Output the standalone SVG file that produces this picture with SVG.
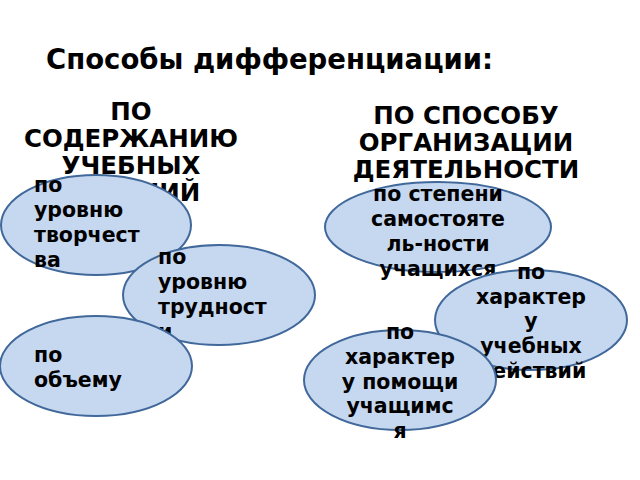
<svg xmlns="http://www.w3.org/2000/svg" width="640" height="480" viewBox="0 0 640 480">
<style>
text{font-family:"DejaVu Sans",Verdana,sans-serif;font-weight:bold;fill:#000}
.h{font-size:24.5px;text-anchor:middle}
.t{font-size:20.5px}
.c{text-anchor:middle}
ellipse{fill:#c6d8f0;stroke:#41689a;stroke-width:2}
</style>
<rect width="640" height="480" fill="#fff"/>
<text x="46" y="69" style="font-size:27.5px">Способы дифференциации:</text>
<text class="h" x="131" y="120">ПО</text>
<text class="h" x="131" y="147">СОДЕРЖАНИЮ</text>
<text class="h" x="131" y="174">УЧЕБНЫХ</text>
<text class="h" x="131" y="201">ЗАДАНИЙ</text>
<text class="h" x="466" y="124">ПО СПОСОБУ</text>
<text class="h" x="466" y="151">ОРГАНИЗАЦИИ</text>
<text class="h" x="466" y="178">ДЕЯТЕЛЬНОСТИ</text>
<g id="connectors"/>
<g id="n1"><ellipse cx="96" cy="225" rx="95" ry="50"/>
<text class="t" x="34" y="192">по</text><text class="t" x="34" y="217">уровню</text><text class="t" x="34" y="242">творчест</text><text class="t" x="34" y="267">ва</text></g>
<g id="n2"><ellipse cx="219" cy="295" rx="96" ry="50"/>
<text class="t" x="158" y="264">по</text><text class="t" x="158" y="289">уровню</text><text class="t" x="158" y="314">трудност</text><text class="t" x="158" y="339">и</text></g>
<g id="n3"><ellipse cx="96" cy="366" rx="96" ry="50"/>
<text class="t" x="34" y="362">по</text><text class="t" x="34" y="387">объему</text></g>
<g id="n4"><ellipse cx="438" cy="227" rx="113" ry="45"/>
<g class="c"><text class="t" x="438" y="201">по степени</text><text class="t" x="438" y="226">самостояте</text><text class="t" x="438" y="251">ль-ности</text><text class="t" x="438" y="276">учащихся</text></g></g>
<g id="n5"><ellipse cx="531" cy="320" rx="96" ry="50"/>
<g class="c"><text class="t" x="531" y="279">по</text><text class="t" x="531" y="304">характер</text><text class="t" x="531" y="328">у</text><text class="t" x="531" y="353">учебных</text><text class="t" x="531" y="378">действий</text></g></g>
<g id="n6"><ellipse cx="400" cy="380" rx="96" ry="50"/>
<g class="c"><text class="t" x="400" y="339">по</text><text class="t" x="400" y="364">характер</text><text class="t" x="400" y="389">у помощи</text><text class="t" x="400" y="413">учащимс</text><text class="t" x="400" y="438">я</text></g></g>
</svg>
